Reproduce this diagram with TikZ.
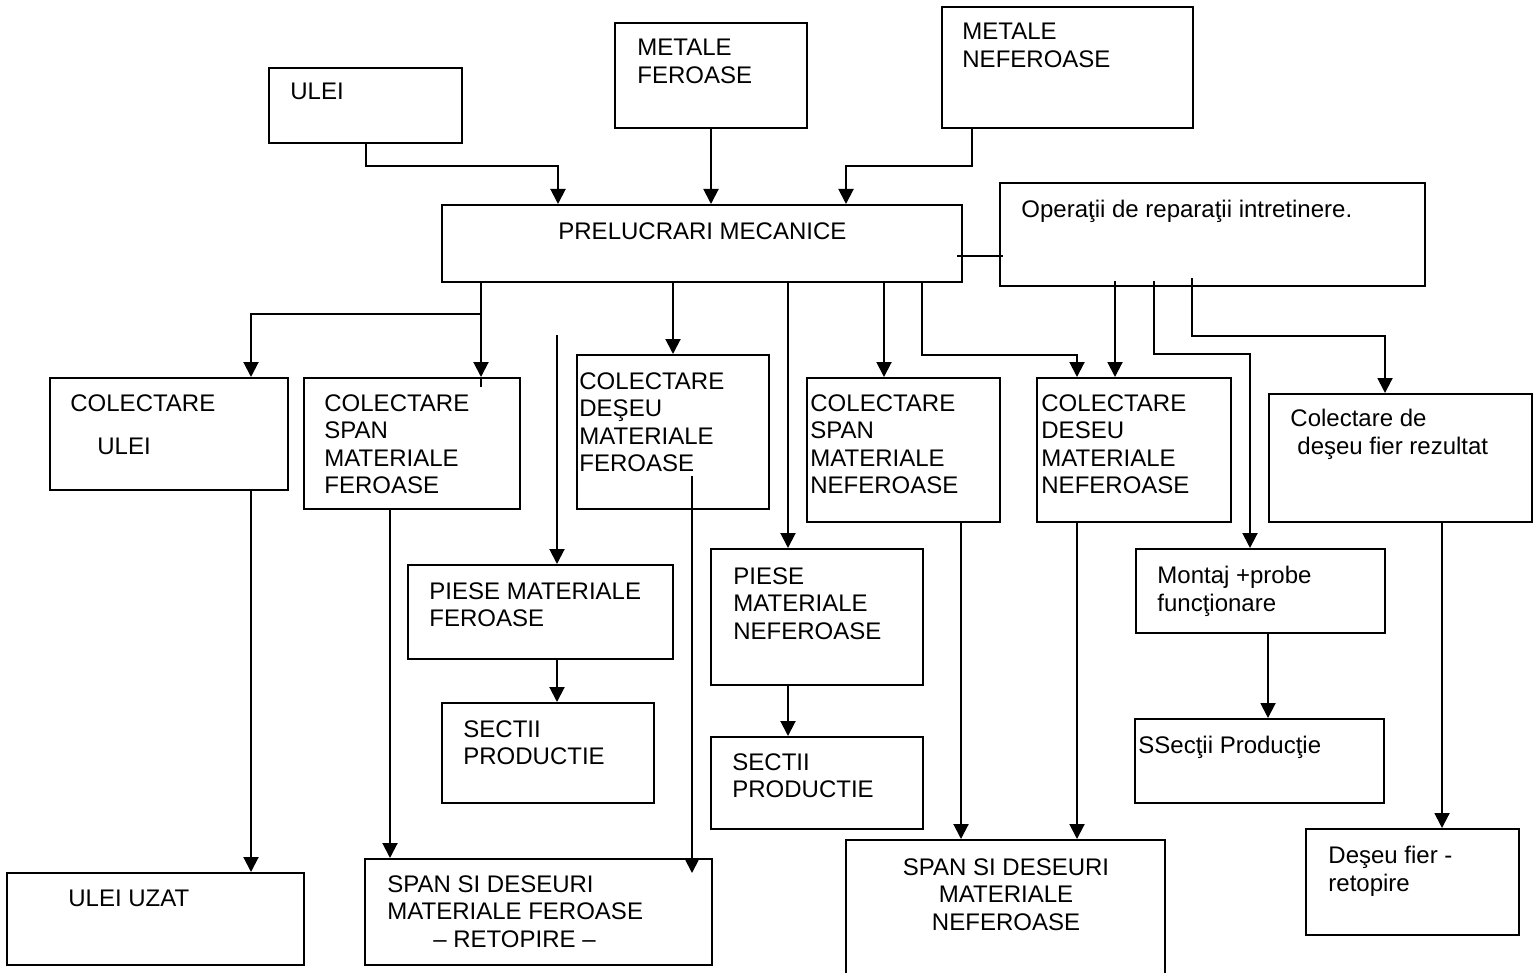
\documentclass[tikz,border=0pt]{standalone}
\usepackage{fontspec}
\setmainfont{Liberation Sans}
\usetikzlibrary{arrows.meta,fit}
\begin{document}
\begin{tikzpicture}[x=0.5pt,y=-0.5pt,
  box/.style={draw, line width=1pt, inner sep=0pt},
  txt/.style={inner sep=0pt, anchor=north west, align=left, font=\fontsize{12}{13.75}\selectfont},
  arr/.style={line width=1pt, -{Triangle[length=7.5pt,width=7.5pt]}},
  ln/.style={line width=1pt}]
\useasboundingbox (0,0) rectangle (1540,973);
\clip (0,0) rectangle (1540,973);
\fill[white] (0,0) rectangle (1540,973);

% boxes
\node[box, fit={(269,68) (462,143)}] (ulei) {};
\node[box, fit={(615,23) (807,128)}] (mf) {};
\node[box, fit={(942,7) (1193,128)}] (mn) {};
\node[box, fit={(442,205) (962,282)}] (prel) {};
\node[box, fit={(1000,183) (1425,286)}] (oper) {};
\node[box, fit={(50,378) (288,490)}] (cul) {};
\node[box, fit={(304,378) (520,509)}] (csf) {};
\node[box, fit={(577,355) (769,509)}] (cdf) {};
\node[box, fit={(807,378) (1000,522)}] (csn) {};
\node[box, fit={(1037,378) (1231,522)}] (cdn) {};
\node[box, fit={(1269,394) (1532,522)}] (cdfr) {};
\node[box, fit={(408,565) (673,659)}] (pf) {};
\node[box, fit={(711,549) (923,685)}] (pn) {};
\node[box, fit={(1136,549) (1385,633)}] (mont) {};
\node[box, fit={(442,703) (654,803)}] (sf) {};
\node[box, fit={(711,737) (923,829)}] (sn) {};
\node[box, fit={(1135,719) (1384,803)}] (ss) {};
\node[box, fit={(7,873) (304,965)}] (uu) {};
\node[box, fit={(365,859) (712,965)}] (sdf) {};
\node[box, fit={(846,840) (1165,995)}] (sdn) {};
\node[box, fit={(1306,829) (1519,935)}] (dfr) {};

% texts
\node[txt] (t-ulei) at (290,83) {ULEI};
\node[txt] (t-mf) at (637,39) {METALE\\FEROASE};
\node[txt] (t-mn) at (962,23) {METALE\\NEFEROASE};
\node[txt] (t-prel) at (558,222) {PRELUCRARI MECANICE};
\node[txt] (t-oper) at (1021,200) {Operaţii de reparaţii intretinere.};
\node[txt] (t-cul) at (70,394) {COLECTARE\\[7.75pt]\hspace*{13.5pt}ULEI};
\node[txt] (t-csf) at (324,394) {COLECTARE\\SPAN\\MATERIALE\\FEROASE};
\node[txt] (t-cdf) at (579,372) {COLECTARE\\DEŞEU\\MATERIALE\\FEROASE};
\node[txt] (t-csn) at (810,394) {COLECTARE\\SPAN\\MATERIALE\\NEFEROASE};
\node[txt] (t-cdn) at (1041,394) {COLECTARE\\DESEU\\MATERIALE\\NEFEROASE};
\node[txt] (t-cdfr) at (1290,409) {Colectare de\\\hspace*{3.5pt}deşeu fier rezultat};
\node[txt] (t-pf) at (429,582) {PIESE MATERIALE\\FEROASE};
\node[txt] (t-pn) at (733,567) {PIESE\\MATERIALE\\NEFEROASE};
\node[txt] (t-mont) at (1157,566) {Montaj +probe\\funcţionare};
\node[txt] (t-sf) at (463,720) {SECTII\\PRODUCTIE};
\node[txt] (t-sn) at (732,753) {SECTII\\PRODUCTIE};
\node[txt] (t-ss) at (1138,736) {SSecţii Producţie};
\node[txt] (t-uu) at (68,890) {ULEI UZAT};
\node[txt] (t-sdf) at (387,875) {SPAN SI DESEURI\\MATERIALE FEROASE\\\hspace*{23pt}– RETOPIRE –};
\node[txt, anchor=north, align=center] (t-sdn) at (1006,858) {SPAN SI DESEURI\\MATERIALE\\NEFEROASE};
\node[txt] (t-dfr) at (1328,846) {Deşeu fier -\\retopire};

% guide coordinates
\coordinate (a1) at (366,166);
\coordinate (a2) at (558,166);
\coordinate (a3) at (972,166);
\coordinate (a4) at (846,166);
\coordinate (b) at (0,256);
\coordinate (j1) at (481,314);
\coordinate (j2) at (251,314);
\coordinate (j3) at (922,355);
\coordinate (j4) at (1077,355);
\coordinate (g788) at (788,0);
\coordinate (g884) at (884,0);
\coordinate (g390) at (390,0);
\coordinate (g961) at (961,0);
\coordinate (g1268) at (1268,0);
\coordinate (g1442) at (1442,0);
\coordinate (k1) at (1115,281);
\coordinate (k2) at (1154,281);
\coordinate (k4) at (1250,354);
\coordinate (k5) at (1192,278);
\coordinate (k6) at (1385,336);
\coordinate (k7) at (557,335);
\coordinate (k8) at (692,476);
\coordinate (k9) at (692,873);

% connectors, top
\draw[arr] (ulei.south -| a1) -- (a1) -- (a2) -- (prel.north -| a2);
\draw[arr] (mf.south) -- (prel.north -| mf.south);
\draw[arr] (mn.south -| a3) -- (a3) -- (a4) -- (prel.north -| a4);
\draw[ln] ([xshift=-3pt]prel.east |- b) -- ([xshift=2pt]oper.west |- b);

% from PRELUCRARI MECANICE
\draw[ln] (prel.south -| j1) -- (j1);
\draw[arr] (j1) -- (j2) -- (cul.north -| j2);
\draw[arr] (j1) -- (csf.north -| j1);
\draw[ln] (csf.north -| j1) -- ++(0,10);
\draw[arr] (prel.south -| cdf.north) -- (cdf.north);
\draw[arr] (prel.south -| g788) -- (pn.north -| g788);
\draw[arr] (prel.south -| g884) -- (csn.north -| g884);
\draw[arr] (prel.south -| j3) -- (j3) -- (j4) -- (cdn.north -| j4);

% from Operatii
\draw[arr] (k1) -- (cdn.north -| k1);
\draw[arr] (k2) |- (k4) -- (mont.north -| k4);
\draw[arr] (k5) |- (k6) -- (cdfr.north -| k6);

% lower connectors
\draw[arr] (k7) -- (pf.north -| k7);
\draw[arr] (cul.south -| j2) -- (uu.north -| j2);
\draw[arr] (csf.south -| g390) -- (sdf.north -| g390);
\draw[arr] (k8) -- (k9);
\draw[arr] (pf.south -| k7) -- (sf.north -| k7);
\draw[arr] (pn.south -| g788) -- (sn.north -| g788);
\draw[arr] (csn.south -| g961) -- (sdn.north -| g961);
\draw[arr] (cdn.south -| j4) -- (sdn.north -| j4);
\draw[arr] (mont.south -| g1268) -- (ss.north -| g1268);
\draw[arr] (cdfr.south -| g1442) -- (dfr.north -| g1442);
\end{tikzpicture}
\end{document}
